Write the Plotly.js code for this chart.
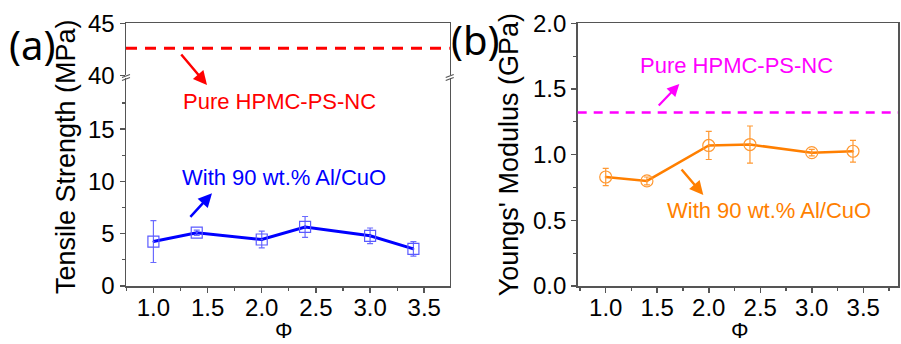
<!DOCTYPE html>
<html>
<head>
<meta charset="utf-8">
<script src="https://cdn.plot.ly/plotly-3.0.1.min.js"></script>
<style>html,body{margin:0;padding:0;background:#fff;}#chart{width:901px;height:344px;}</style>
</head>
<body>
<div id="chart"></div>
<script>
// ---- data ----
const phi = [1.0, 1.4, 2.0, 2.4, 3.0, 3.4];
const tensile = [4.25, 5.1, 4.45, 5.65, 4.8, 3.55];
const tensileErr = [2.0, 0.25, 0.8, 1.0, 0.75, 0.7];
const modulus = [0.83, 0.80, 1.07, 1.077, 1.015, 1.026];
const modulusErr = [0.066, 0.03, 0.107, 0.141, 0.025, 0.083];
const pureTensile = 42.6;   // MPa, dashed reference line
const pureModulus = 1.32;   // GPa, dashed reference line
const xTickVals = [1.0, 1.5, 2.0, 2.5, 3.0, 3.5];
const xTickText = ['1.0', '1.5', '2.0', '2.5', '3.0', '3.5'];
const lowTickVals = [0, 5, 10, 15];
const highTickVals = [40, 45];
const modTickVals = [0, 0.5, 1.0, 1.5, 2.0];
const modTickText = ['0.0', '0.5', '1.0', '1.5', '2.0'];
const labelPure = 'Pure HPMC-PS-NC';
const labelWith = 'With 90 wt.% Al/CuO';
const titleTensile = 'Tensile Strength (MPa)';
const titleModulus = "Youngs' Modulus (GPa)";
const titlePhi = 'Φ';

const FONT = 'Liberation Sans, Arial, sans-serif';
const AX = '#555555';

const H = 344, W = 901;
const px = x => x / W;
const py = y => (H - y) / H;

const baseAxis = {
  showline: true, linecolor: AX, linewidth: 1.5,
  ticks: 'outside', ticklen: 5, tickwidth: 1.5, tickcolor: AX,
  showgrid: false, zeroline: false, automargin: false,
  tickfont: {family: FONT, size: 24, color: '#000'}
};

const traces = [
  {
    x: phi, y: tensile, xaxis: 'x', yaxis: 'y', type: 'scatter', mode: 'lines+markers',
    line: {color: '#0000ff', width: 3},
    marker: {symbol: 'square-open-dot', size: 11, color: '#5a5aff', line: {width: 1.2}},
    error_y: {type: 'data', array: tensileErr, visible: true, color: '#6a6aff', thickness: 1.2, width: 3},
    showlegend: false, hoverinfo: 'x+y'
  },
  {
    x: phi, y: modulus, xaxis: 'x2', yaxis: 'y3', type: 'scatter', mode: 'lines+markers',
    line: {color: '#ff7f00', width: 2.5},
    marker: {symbol: 'circle-open-dot', size: 12, color: '#ff9933', line: {width: 1.2}},
    error_y: {type: 'data', array: modulusErr, visible: true, color: '#ff9933', thickness: 1.2, width: 3},
    showlegend: false, hoverinfo: 'x+y'
  }
];

const minorX = {dtick: 0.25, tick0: 0, ticks: 'outside', ticklen: 3, tickwidth: 1.2, tickcolor: AX};

const layout = {
  width: W, height: H,
  margin: {l: 0, r: 0, t: 0, b: 0},
  paper_bgcolor: '#fff', plot_bgcolor: 'rgba(0,0,0,0)',
  font: {family: FONT, color: '#000'},
  showlegend: false,
  // left panel, lower segment
  xaxis: Object.assign({}, baseAxis, {
    domain: [px(126), px(449.7)], range: [0.747, 3.735], anchor: 'y',
    tickvals: xTickVals, ticktext: xTickText, minor: minorX, ticklabelstandoff: -5
  }),
  yaxis: Object.assign({}, baseAxis, {
    domain: [py(286), py(78)], range: [0, 19.9], anchor: 'x', mirror: true,
    tickvals: lowTickVals,
    minor: {dtick: 2.5, tick0: 0, ticks: 'outside', ticklen: 3, tickwidth: 1.2, tickcolor: AX}
  }),
  // left panel, upper segment
  yaxis2: Object.assign({}, baseAxis, {
    domain: [py(75.3), py(23.3)], range: [40, 45], anchor: 'x3', mirror: true,
    tickvals: highTickVals
  }),
  xaxis3: Object.assign({}, baseAxis, {
    domain: [px(126), px(449.7)], range: [0.747, 3.735], anchor: 'y2', side: 'top',
    ticks: '', showticklabels: false
  }),
  // right panel
  xaxis2: Object.assign({}, baseAxis, {
    domain: [px(577.7), px(898)], range: [0.728, 3.837], anchor: 'y3', mirror: true,
    tickvals: xTickVals, ticktext: xTickText, minor: minorX, ticklabelstandoff: -5
  }),
  yaxis3: Object.assign({}, baseAxis, {
    domain: [py(286), py(23.3)], range: [0, 2], anchor: 'x2', mirror: true,
    tickvals: modTickVals, ticktext: modTickText,
    minor: {dtick: 0.25, tick0: 0, ticks: 'outside', ticklen: 3, tickwidth: 1.2, tickcolor: AX},
    title: {text: titleModulus, font: {family: FONT, size: 27}, standoff: 6}
  }),
  shapes: [
    {type: 'line', xref: 'x3 domain', yref: 'y2', x0: 0, x1: 1, y0: pureTensile, y1: pureTensile,
     line: {color: '#ff0000', width: 3, dash: '11px,8px'}},
    {type: 'line', xref: 'x2 domain', yref: 'y3', x0: 0, x1: 1, y0: pureModulus, y1: pureModulus,
     line: {color: '#ff00ff', width: 2.5, dash: '9px,7px'}},
    // axis break marks
    {type: 'line', xref: 'paper', yref: 'paper', x0: px(122), x1: px(130), y0: py(77.5), y1: py(74.5), line: {color: AX, width: 1.2}},
    {type: 'line', xref: 'paper', yref: 'paper', x0: px(122), x1: px(130), y0: py(80.5), y1: py(77.5), line: {color: AX, width: 1.2}},
    {type: 'line', xref: 'paper', yref: 'paper', x0: px(445.7), x1: px(453.7), y0: py(77.5), y1: py(74.5), line: {color: AX, width: 1.2}},
    {type: 'line', xref: 'paper', yref: 'paper', x0: px(445.7), x1: px(453.7), y0: py(80.5), y1: py(77.5), line: {color: AX, width: 1.2}}
  ],
  annotations: [
    {text: '(a)', xref: 'paper', yref: 'paper', x: px(32), y: py(44), xanchor: 'center', yanchor: 'middle', showarrow: false,
     font: {family: 'Noto Sans, sans-serif', size: 40, color: '#000'}},
    {text: '(b)', xref: 'paper', yref: 'paper', x: px(475), y: py(40), xanchor: 'center', yanchor: 'middle', showarrow: false,
     font: {family: 'Noto Sans, sans-serif', size: 40, color: '#000'}},
    {text: titleTensile, xref: 'paper', yref: 'paper', x: px(66), y: py(157), xanchor: 'center', yanchor: 'middle',
     textangle: -90, showarrow: false, font: {family: FONT, size: 27, color: '#000'}},
    {text: titlePhi, xref: 'paper', yref: 'paper', x: px(284), y: 0, xanchor: 'center', yanchor: 'bottom', borderpad: 0,
     showarrow: false, font: {family: FONT, size: 22, color: '#000'}},
    {text: titlePhi, xref: 'paper', yref: 'paper', x: px(740), y: 0, xanchor: 'center', yanchor: 'bottom', borderpad: 0,
     showarrow: false, font: {family: FONT, size: 22, color: '#000'}},
    {text: labelPure, xref: 'paper', yref: 'paper', x: px(279), y: py(102), xanchor: 'center', yanchor: 'middle', showarrow: false,
     font: {family: FONT, size: 22, color: '#ff0000'}},
    {text: '', xref: 'paper', yref: 'paper', x: px(207), y: py(85), ax: -27, ay: -32,
     showarrow: true, arrowhead: 2, arrowsize: 1.1, arrowwidth: 2.5, arrowcolor: '#ff0000', standoff: 0},
    {text: labelWith, xref: 'paper', yref: 'paper', x: px(284), y: py(177), xanchor: 'center', yanchor: 'middle', showarrow: false,
     font: {family: FONT, size: 22, color: '#0000ff'}},
    {text: '', xref: 'paper', yref: 'paper', x: px(212), y: py(193.3), ax: -23, ay: 25,
     showarrow: true, arrowhead: 2, arrowsize: 1.1, arrowwidth: 2.5, arrowcolor: '#0000ff', standoff: 0},
    {text: labelPure, xref: 'paper', yref: 'paper', x: px(736), y: py(65), xanchor: 'center', yanchor: 'middle', showarrow: false,
     font: {family: FONT, size: 22, color: '#ff00ff'}},
    {text: '', xref: 'paper', yref: 'paper', x: px(679.3), y: py(84), ax: -22, ay: 23,
     showarrow: true, arrowhead: 2, arrowsize: 1.1, arrowwidth: 2.2, arrowcolor: '#ff00ff', standoff: 0},
    {text: labelWith, xref: 'paper', yref: 'paper', x: px(769), y: py(210), xanchor: 'center', yanchor: 'middle', showarrow: false,
     font: {family: FONT, size: 22, color: '#ff7f00'}},
    {text: '', xref: 'paper', yref: 'paper', x: px(703.3), y: py(195), ax: -23, ay: -27,
     showarrow: true, arrowhead: 2, arrowsize: 1.1, arrowwidth: 2.5, arrowcolor: '#ff7f00', standoff: 0}
  ]
};

Plotly.newPlot('chart', traces, layout, {staticPlot: true, displayModeBar: false});
</script>
</body>
</html>
